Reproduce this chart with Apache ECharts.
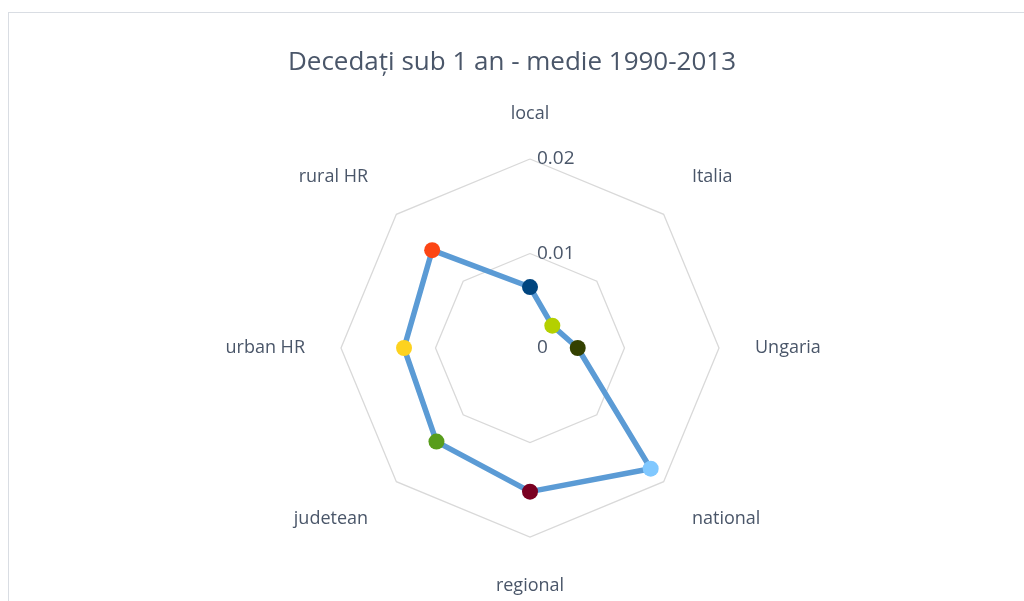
<!DOCTYPE html>
<html>
<head>
<meta charset="utf-8">
<title>Decedați sub 1 an - medie 1990-2013</title>
<script src="https://cdn.jsdelivr.net/npm/echarts@6/dist/echarts.min.js"></script>
<style>
  html, body { margin: 0; padding: 0; background: #ffffff; overflow: hidden; }
  #frame { position: absolute; left: 8px; top: 12px; width: 1040px; height: 620px;
           border: 1px solid #d9dde3; box-sizing: border-box; }
  #chart { position: absolute; left: 0; top: 0; width: 1024px; height: 601px; }
</style>
</head>
<body>
<div id="frame"></div>
<div id="chart"></div>
<script>
// Average infant deaths (under 1 year), 1990-2013, clockwise from the top
const categories = ['local', 'Italia', 'Ungaria', 'national', 'regional', 'judetean', 'urban HR', 'rural HR'];
const values = [0.00645, 0.00334, 0.00505, 0.01806, 0.0152, 0.0140, 0.01333, 0.01464];
const pointColors = ['#00457f', '#b4d000', '#334000', '#80c8ff', '#7a0021', '#589d1c', '#fdd21f', '#fc4514'];
const radialMax = 0.02;
const radialSplits = 2;

const textColor = '#4a5669';
const fontFamily = '"Open Sans", "Noto Sans", sans-serif';
const center = [530, 348];
const radius = 189;

// ECharts lays radar indicators counter-clockwise, so list them in reverse after the first
const ccwOrder = [0].concat(categories.map((_, i) => i).slice(1).reverse());

// Name placement per position around the octagon (clockwise index from the top)
function nameLayout(i) {
  if (i === 0) return { gap: 36 };                         // top
  if (i === 4) return { gap: 40 };                         // bottom
  if (i === 2 || i === 6) return { gap: 36 };              // left / right
  const upper = (i === 1 || i === 7);
  return { gap: 40, verticalAlign: upper ? 'bottom' : 'top' };
}

const indicators = ccwOrder.map((i, k) => {
  const lay = nameLayout(i);
  const ind = { name: categories[i], min: 0, max: radialMax, nameGap: lay.gap };
  if (lay.verticalAlign) {
    ind.nameTextStyle = { verticalAlign: lay.verticalAlign };
  }
  if (k === 0) {
    ind.axisLabel = {
      show: true,
      color: textColor,
      fontSize: 19,
      fontFamily: fontFamily,
      margin: -7,
      align: 'left',
      formatter: v => String(+v.toFixed(4))
    };
  }
  return ind;
});

const chart = echarts.init(document.getElementById('chart'), null, { renderer: 'canvas' });

chart.setOption({
  animation: false,
  backgroundColor: 'transparent',
  title: {
    text: 'Decedați sub 1 an - medie 1990-2013',
    left: 'center',
    top: 45,
    textStyle: { color: '#4a5669', fontSize: 26, fontWeight: 'normal', fontFamily: fontFamily }
  },
  radar: {
    center: center,
    radius: radius,
    startAngle: 90,
    shape: 'polygon',
    splitNumber: radialSplits,
    indicator: indicators,
    axisName: { color: textColor, fontSize: 18, fontFamily: fontFamily },
    nameGap: 38,
    axisLine: { show: false },
    axisTick: { show: false },
    axisLabel: { show: false },
    splitArea: { show: false },
    splitLine: { lineStyle: { color: '#d9d9d9', width: 1.3 } }
  },
  polar: { center: center, radius: radius },
  angleAxis: { type: 'value', min: 0, max: 360, startAngle: 90, clockwise: true, show: false },
  radiusAxis: { type: 'value', min: 0, max: radialMax, show: false },
  series: [
    {
      type: 'radar',
      symbol: 'none',
      lineStyle: { color: '#5b9bd5', width: 5.5 },
      data: [{ value: ccwOrder.map(i => values[i]) }],
      z: 2
    },
    {
      type: 'scatter',
      coordinateSystem: 'polar',
      symbol: 'circle',
      symbolSize: 16,
      z: 3,
      data: values.map((v, i) => ({
        value: [v, i * 360 / categories.length],
        itemStyle: { color: pointColors[i], opacity: 1 }
      }))
    }
  ]
});
</script>
</body>
</html>
